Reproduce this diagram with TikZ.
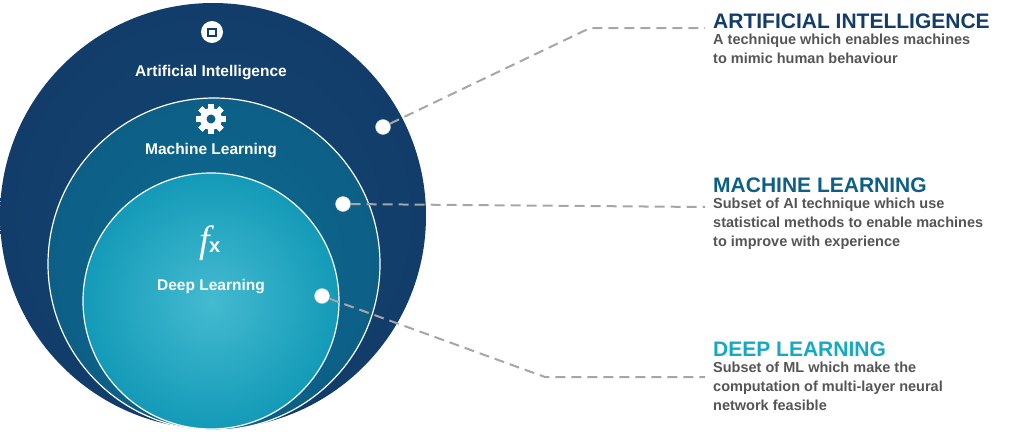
\documentclass[tikz,border=0pt]{standalone}
\usepackage{fontspec}
\setmainfont{Liberation Sans}
\newfontfamily\fxfont{Liberation Serif}
\usetikzlibrary{positioning}
\definecolor{aiblue}{HTML}{123D6A}
\definecolor{mlblue}{HTML}{0D5F86}
\definecolor{dlblue}{HTML}{15A9C4}
\definecolor{txtgray}{HTML}{555555}
\begin{document}
\begin{tikzpicture}[x=1pt,y=-1pt]
\tikzstyle{ring}=[draw=white,line width=1.2pt]
\tikzstyle{lab}=[text=white,font=\bfseries\fontsize{15.5}{18}\selectfont]
\tikzstyle{dot}=[circle,fill=white,draw=black!20,inner sep=0pt,minimum size=15pt]
\tikzstyle{con}=[draw=black!35,line width=2pt,dash pattern=on 10pt off 6pt]
\tikzstyle{head}=[anchor=north west,inner sep=0pt,font=\bfseries\fontsize{21}{22}\selectfont]
\tikzstyle{desc}=[anchor=north west,inner sep=0pt,align=left,text=txtgray,font=\bfseries\fontsize{14.5}{19}\selectfont]
\useasboundingbox (0,0) rectangle (1024,431);
\shade[inner color=aiblue!80!mlblue,outer color=aiblue] (213,216) circle (213);
\shade[ring,inner color=mlblue!85!dlblue,outer color=mlblue] (214,264) circle (166);
\shade[ring,inner color=dlblue!80!white,outer color=dlblue!80!mlblue] (211,301) circle (128);
% icons
\fill[white] (212,32) circle (11);
\fill[aiblue] (207,28) rectangle (217,37);
\fill[white] (209,30) rectangle (215,35);
\foreach \a in {0,45,...,315}
  \fill[white,rotate around={\a:(211,119)}] (208,104) rectangle (214,134);
\fill[white] (211,119) circle (11);
\fill[mlblue] (211,119) circle (4.5);
\node[text=white] (fx) at (210,243) {{\fxfont\itshape\fontsize{38}{38}\selectfont f}\kern-1pt{\bfseries\fontsize{20}{20}\selectfont x}};
% labels
\node[lab] (ai) at (211,73) {Artificial Intelligence};
\node[lab] (ml) at (211,151) {Machine Learning};
\node[lab] (dl) at (211,287) {Deep Learning};
% dots
\node[dot] (pai) at (383,127) {};
\node[dot] (pml) at (343,204) {};
\node[dot] (pdl) at (322,296) {};
\coordinate (kai) at (590,28);
\coordinate (kdl) at (545,377);
\coordinate (eai) at (705,28);
\coordinate (eml) at (705,207);
\coordinate (edl) at (705,377);
\draw[con] (pai) -- (kai) -- (eai);
\draw[con] (pml) -- (eml);
\draw[con] (pdl) -- (kdl) -- (edl);
% text
\node[head,text=aiblue] (hai) at (713,14) {ARTIFICIAL INTELLIGENCE};
\node[desc] (dai) at ([yshift=-5pt]hai.south west) {A technique which enables machines\\to mimic human behaviour};
\node[head,text=mlblue] (hml) at (713,178) {MACHINE LEARNING};
\node[desc] (dml) at ([yshift=-5pt]hml.south west) {Subset of AI technique which use\\statistical methods to enable machines\\to improve with experience};
\node[head,text=dlblue] (hdl) at (713,342) {DEEP LEARNING};
\node[desc] (ddl) at ([yshift=-5pt]hdl.south west) {Subset of ML which make the\\computation of multi-layer neural\\network feasible};
\end{tikzpicture}
\end{document}
